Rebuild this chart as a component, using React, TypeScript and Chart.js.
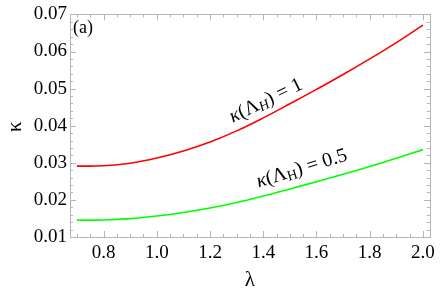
import React, { useEffect, useRef } from "react";
import { Chart, registerables } from "chart.js";

Chart.register(...registerables);

const lambdaValues = [0.7, 0.8, 0.9, 1.0, 1.1, 1.2, 1.3, 1.4, 1.5, 1.6, 1.7, 1.8, 1.9, 2.0];
const kappaH1 = [0.0291, 0.0292, 0.0299, 0.0313, 0.0332, 0.0356, 0.0386, 0.0421, 0.0459, 0.0498, 0.0538, 0.0580, 0.0624, 0.0671];
const kappaH05 = [0.01455, 0.0146, 0.01495, 0.01565, 0.0166, 0.0178, 0.0193, 0.02105, 0.02295, 0.0249, 0.0269, 0.029, 0.0312, 0.03355];

const xTicks = [0.8, 1.0, 1.2, 1.4, 1.6, 1.8, 2.0];
const yTicks = [0.01, 0.02, 0.03, 0.04, 0.05, 0.06, 0.07];
const xRange = [0.674, 2.026];
const yRange = [0.01, 0.07];
const xMinorStep = 0.05;
const yMinorStep = 0.002;

const SERIF = '"Liberation Serif", serif';

Chart.defaults.font.family = SERIF;

const framePlugin = {
  id: "mmaFrame",
  afterDraw(chart: any) {
    const { ctx, chartArea, scales } = chart;
    const { left, right, top, bottom } = chartArea;
    const xs = scales.x;
    const ys = scales.y;
    ctx.save();
    ctx.strokeStyle = "#b5b5b5";
    ctx.lineWidth = 1;
    ctx.strokeRect(Math.round(left) + 0.5, Math.round(top) + 0.5, Math.round(right - left), Math.round(bottom - top));

    const drawX = (v: number, len: number) => {
      const px = Math.round(xs.getPixelForValue(v)) + 0.5;
      ctx.beginPath();
      ctx.moveTo(px, bottom);
      ctx.lineTo(px, bottom - len);
      ctx.moveTo(px, top);
      ctx.lineTo(px, top + len);
      ctx.stroke();
    };
    const drawY = (v: number, len: number) => {
      const py = Math.round(ys.getPixelForValue(v)) + 0.5;
      ctx.beginPath();
      ctx.moveTo(left, py);
      ctx.lineTo(left + len, py);
      ctx.moveTo(right, py);
      ctx.lineTo(right - len, py);
      ctx.stroke();
    };
    const xStart = Math.ceil(xRange[0] / xMinorStep);
    const xEnd = Math.floor(xRange[1] / xMinorStep);
    for (let i = xStart; i <= xEnd; i++) drawX(i * xMinorStep, 3);
    const yStart = Math.ceil(yRange[0] / yMinorStep - 1e-6);
    const yEnd = Math.floor(yRange[1] / yMinorStep + 1e-6);
    for (let i = yStart; i <= yEnd; i++) drawY(i * yMinorStep, 3);
    xTicks.forEach((v) => drawX(v, 6));
    yTicks.forEach((v) => drawY(v, 6));

    ctx.fillStyle = "#000";
    ctx.font = '18px "Liberation Serif"';
    ctx.textAlign = "left";
    ctx.textBaseline = "middle";
    ctx.fillText("(a)", left + 3, top + 14);

    ctx.font = '21px "Liberation Serif"';
    ctx.textAlign = "center";
    ctx.fillText("λ", (left + right) / 2, 280);
    ctx.save();
    ctx.translate(15, (top + bottom) / 2 + 1);
    ctx.rotate(-Math.PI / 2);
    ctx.fillText("κ", 0, 0);
    ctx.restore();

    const drawLabel = (lx: number, ly: number, angleDeg: number, tail: string, italicH: boolean) => {
      const cx = xs.getPixelForValue(lx);
      const cy = ys.getPixelForValue(ly);
      const size = 20;
      const parts: { t: string; font: string; dy: number }[] = [
        { t: "κ", font: `italic ${size}px "Liberation Serif"`, dy: 0 },
        { t: "(Λ", font: `${size}px "Liberation Serif"`, dy: 0 },
        { t: "H", font: `${italicH ? "italic " : ""}${Math.round(size * 0.72)}px "Liberation Serif"`, dy: 4 },
        { t: ")", font: `${size}px "Liberation Serif"`, dy: 0 },
        { t: tail, font: `${size}px "Liberation Serif"`, dy: 0 },
      ];
      let total = 0;
      const widths = parts.map((p) => {
        ctx.font = p.font;
        const w = ctx.measureText(p.t).width;
        total += w;
        return w;
      });
      ctx.save();
      ctx.translate(cx, cy);
      ctx.rotate((angleDeg * Math.PI) / 180);
      ctx.textAlign = "left";
      ctx.textBaseline = "middle";
      let x = -total / 2;
      parts.forEach((p, i) => {
        ctx.font = p.font;
        ctx.fillText(p.t, x, p.dy);
        x += widths[i];
      });
      ctx.restore();
    };
    drawLabel(1.41, 0.0467, -26, " = 1", true);
    drawLabel(1.545, 0.0284, -17, " = 0.5", false);
    ctx.restore();
  },
};

export default function App() {
  const ref = useRef<HTMLCanvasElement | null>(null);
  useEffect(() => {
    if (!ref.current) return;
    const chart = new Chart(ref.current, {
      type: "line",
      data: {
        datasets: [
          {
            label: "κ(ΛH) = 1",
            data: lambdaValues.map((x, i) => ({ x, y: kappaH1[i] })),
            borderColor: "rgb(255,0,0)",
            borderWidth: 1.6,
            pointRadius: 0,
            tension: 0.4,
            fill: false,
          },
          {
            label: "κ(ΛH) = 0.5",
            data: lambdaValues.map((x, i) => ({ x, y: kappaH05[i] })),
            borderColor: "rgb(0,255,0)",
            borderWidth: 1.6,
            pointRadius: 0,
            tension: 0.4,
            fill: false,
          },
        ],
      },
      options: {
        animation: false,
        responsive: false,
        maintainAspectRatio: false,
        layout: { padding: { top: 13, right: 8, left: 0, bottom: 0 } },
        plugins: { legend: { display: false }, tooltip: { enabled: false } },
        scales: {
          x: {
            type: "linear",
            min: xRange[0],
            max: xRange[1],
            afterBuildTicks: (s: any) => {
              s.ticks = xTicks.map((v) => ({ value: v }));
            },
            afterFit: (s: any) => {
              s.height = 57;
            },
            grid: { display: false, drawTicks: false },
            border: { display: false },
            ticks: {
              color: "#000",
              padding: 5,
              maxRotation: 0,
              autoSkip: false,
              font: { family: SERIF, size: 19 },
              callback: (v: any) => Number(v).toFixed(1),
            },
          },
          y: {
            type: "linear",
            min: yRange[0],
            max: yRange[1],
            afterBuildTicks: (s: any) => {
              s.ticks = yTicks.map((v) => ({ value: v }));
            },
            afterFit: (s: any) => {
              s.width = 70;
            },
            grid: { display: false, drawTicks: false },
            border: { display: false },
            ticks: {
              color: "#000",
              padding: 3,
              autoSkip: false,
              font: { family: SERIF, size: 19 },
              callback: (v: any) => Number(v).toFixed(2),
            },
          },
        },
      },
      plugins: [framePlugin],
    } as any);
    const timer = setTimeout(() => chart.update(), 150);
    return () => {
      clearTimeout(timer);
      chart.destroy();
    };
  }, []);
  return (
    <div style={{ position: "absolute", left: 0, top: 0, width: 440, height: 294, background: "#fff" }}>
      <canvas ref={ref} width={440} height={294} />
    </div>
  );
}
